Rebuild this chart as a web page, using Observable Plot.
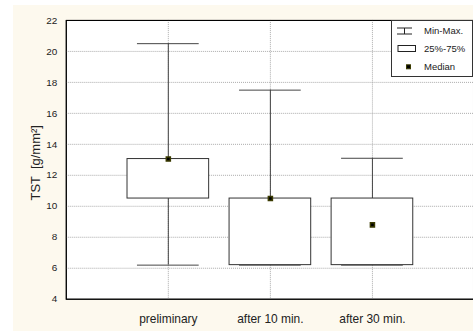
<!DOCTYPE html>
<html><head><meta charset="utf-8">
<script src="https://cdn.jsdelivr.net/npm/d3@7"></script>
<script src="https://cdn.jsdelivr.net/npm/@observablehq/plot@0.6"></script>
<style>
body{margin:0;background:#fff;font-family:"Liberation Sans",Arial,sans-serif;}
#wrap{position:absolute;left:13px;top:5px;width:460px;height:326px;background:#fdf9ee;overflow:hidden;}
#legend{position:absolute;left:378px;top:15px;}
</style></head>
<body><div id="wrap"><div id="chart"></div>
<svg id="legend" width="82" height="57" font-family="Liberation Sans, Arial, sans-serif" font-size="9.5" fill="#222">
<rect x="0.5" y="0.5" width="81" height="56" fill="#fff" stroke="#333"/>
<line x1="6" x2="21" y1="8" y2="8" stroke="#222"/>
<line x1="6" x2="21" y1="14" y2="14" stroke="#222"/>
<line x1="13.5" x2="13.5" y1="8" y2="14" stroke="#222"/>
<text x="33" y="10.7" dy="0.35em">Min-Max.</text>
<rect x="7" y="25.5" width="17.5" height="6" fill="#fff" stroke="#222"/>
<text x="33" y="28.3" dy="0.35em">25%-75%</text>
<rect x="15.5" y="44.8" width="4" height="4" fill="#000" stroke="#3a3a00"/>
<text x="33" y="46.5" dy="0.35em">Median</text>
</svg></div>
<script>
const categories = ["preliminary", "after 10 min.", "after 30 min."];
const mins = [6.2, 6.2, 6.2];
const q1s = [10.5, 6.2, 6.2];
const medians = [13.05, 10.5, 8.8];
const q3s = [13.05, 10.5, 10.5];
const maxs = [20.5, 17.5, 13.1];
const yTicks = [4, 6, 8, 10, 12, 14, 16, 18, 20, 22];
const yLabel = "TST  [g/mm²]";

const data = categories.map((c, i) => ({cat: c, min: mins[i], q1: q1s[i], med: medians[i], q3: q3s[i], max: maxs[i]}));
const gridVals = yTicks.filter(v => v > 4 && v < 22);

const chart = Plot.plot({
  width: 462, height: 326,
  marginLeft: 53, marginRight: 0, marginTop: 15, marginBottom: 31,
  style: {background: "transparent", fontFamily: "Liberation Sans, Arial, sans-serif", color: "#222"},
  x: {type: "band", domain: categories, range: [53, 463], paddingInner: 0.2, paddingOuter: 0.6, round: false, axis: null},
  y: {domain: [4, 22], axis: null},
  marks: [
    Plot.frame({fill: "white", stroke: "black"}),
    Plot.ruleY(gridVals, {stroke: "#aaa", strokeDasharray: "1,1"}),
    Plot.ruleX(categories, {x: d => d, stroke: "#aaa", strokeDasharray: "1,1"}),
    Plot.ruleX(data, {x: "cat", y1: "min", y2: "q1", stroke: "#444"}),
    Plot.ruleX(data, {x: "cat", y1: "q3", y2: "max", stroke: "#444"}),
    Plot.tickY(data, {x: "cat", y: "max", stroke: "#444", insetLeft: 10, insetRight: 10}),
    Plot.tickY(data, {x: "cat", y: "min", stroke: "#444", insetLeft: 10, insetRight: 10}),
    Plot.barY(data, {x: "cat", y1: "q1", y2: "q3", fill: "white", stroke: "#333"}),
    Plot.dot(data, {x: "cat", y: "med", symbol: "square", r: 2.3, fill: "black", stroke: "#3a3a00"}),
    Plot.axisY({ticks: yTicks, tickSize: 0, tickPadding: 9, fontSize: 10, label: null}),
    Plot.axisX({tickSize: 0, tickPadding: 15, fontSize: 12, label: null}),
    Plot.frame({stroke: "black"}),
    Plot.text([yLabel], {frameAnchor: "left", textAnchor: "middle", rotate: -90, dx: -31, dy: 3, fontSize: 13, fill: "#222"})
  ]
});
document.getElementById("chart").appendChild(chart);
</script></body></html>
